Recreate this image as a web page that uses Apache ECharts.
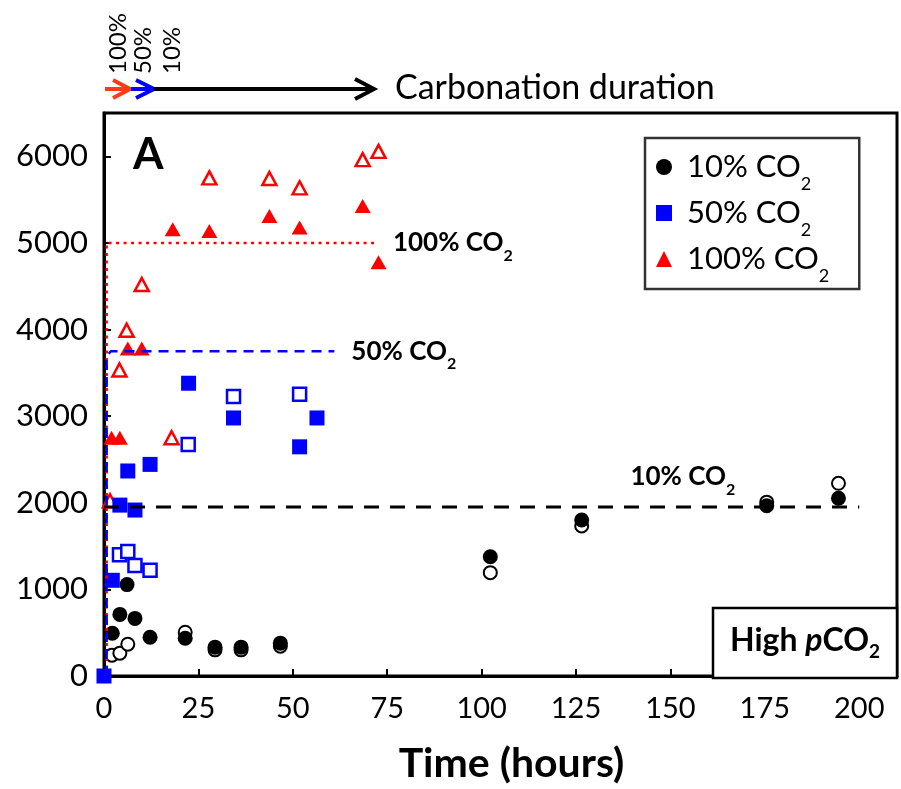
<!DOCTYPE html>
<html>
<head>
<meta charset="utf-8">
<script src="https://cdn.jsdelivr.net/npm/echarts@6/dist/echarts.min.js"></script>
<style>
  html, body { margin: 0; padding: 0; background: #fff; }
  #chart { width: 901px; height: 789px; }
</style>
</head>
<body>
<div id="chart"></div>
<script>
var FONT = 'Lato, "Liberation Sans", sans-serif';

// 10% CO2 (filled = legend, open = second sample)
var hours10 = [2.2, 4.2, 6.1, 8.2, 12.2, 21.5, 29.4, 36.3, 46.7, 102.3, 126.5, 175.5, 194.5];
var carb10 = [493, 711, 1055, 665, 447, 436, 333, 333, 379, 1376, 1801, 1965, 2053];
var hours10b = [2.1, 4.2, 6.3, 21.5, 29.4, 36.3, 46.7, 102.3, 126.5, 175.5, 194.5];
var carb10b = [241, 264, 367, 505, 302, 302, 344, 1193, 1732, 2007, 2225];

// 50% CO2
var hours50 = [0, 2.2, 4.2, 6.3, 8.2, 12.2, 22.4, 34.3, 51.8, 56.4];
var carb50 = [0, 1105, 1973, 2367, 1916, 2443, 3380, 2979, 2646, 2979];
var hours50b = [4.1, 6.3, 8.2, 12.2, 22.3, 34.3, 51.8];
var carb50b = [1400, 1437, 1277, 1220, 2673, 3228, 3254];

// 100% CO2
var hours100 = [2.0, 4.2, 6.3, 10.0, 18.2, 27.9, 43.8, 51.8, 68.5, 72.7];
var carb100 = [2750, 2750, 3782, 3782, 5159, 5139, 5311, 5177, 5426, 4776];
var hours100b = [1.6, 4.1, 6.0, 10.0, 17.9, 27.9, 43.8, 51.8, 68.5, 72.7];
var carb100b = [2023, 3533, 3992, 4520, 2750, 5751, 5744, 5636, 5962, 6057];

// plateau lines
var plateauLevels = [1950, 3750, 5000];
var plateauEnds = [200, 61, 72];

var xTicks = [0, 25, 50, 75, 100, 125, 150, 175, 200];
var yTicks = [0, 1000, 2000, 3000, 4000, 5000, 6000];

function pairs(xs, ys) {
  return xs.map(function (x, i) { return [x, ys[i]]; });
}

// subscript pushed down with top padding (offset = padding / 2)
var labRich = {
  m: { fontFamily: FONT, fontSize: 26, fontWeight: 'bold', color: '#000', verticalAlign: 'middle' },
  s: { fontFamily: FONT, fontSize: 16, fontWeight: 'bold', color: '#000', lineHeight: 16, verticalAlign: 'middle', padding: [26, 0, 0, 0] }
};
function endLabel(txt, offY) {
  return {
    show: true, position: 'right', distance: offY ? 0 : 17, offset: [0, offY || 0],
    formatter: '{m|' + txt + '}{s|2}', rich: labRich
  };
}

var myChart = echarts.init(document.getElementById('chart'));

var option = {
  animation: false,
  grid: { left: 104, right: 4, top: 113, bottom: 111, show: true, borderColor: '#000', borderWidth: 3 },
  legend: {
    orient: 'vertical',
    left: 645, top: 138,
    padding: [3, 30, 4, 11],
    itemGap: -6,
    itemWidth: 16, itemHeight: 16,
    borderColor: '#333', borderWidth: 2.5,
    data: ['10% CO2', '50% CO2', '100% CO2'],
    formatter: function (name) { return '{m|' + name.slice(0, -1) + '}{s|2}'; },
    textStyle: {
      rich: {
        m: { fontFamily: FONT, fontSize: 31, color: '#000', verticalAlign: 'middle', padding: [0, 0, 0, 10] },
        s: { fontFamily: FONT, fontSize: 18, color: '#000', lineHeight: 16, verticalAlign: 'middle', padding: [34, 0, 0, 0] }
      }
    }
  },
  xAxis: {
    type: 'value', min: 0, max: 210, interval: 25,
    axisLine: { lineStyle: { color: '#000', width: 3 } },
    axisTick: { inside: true, length: 7, lineStyle: { color: '#000', width: 2 } },
    splitLine: { show: false },
    axisLabel: {
      color: '#000', fontFamily: FONT, fontSize: 29, margin: 18,
      formatter: function (v) { return xTicks.indexOf(v) >= 0 ? String(v) : ''; }
    },
    name: 'Time (hours)', nameLocation: 'middle', nameGap: 67,
    nameTextStyle: { color: '#000', fontFamily: FONT, fontSize: 41, fontWeight: 'bold', padding: [0, 0, 0, 22] }
  },
  yAxis: {
    type: 'value', min: 0, max: 6500, interval: 1000,
    axisLine: { lineStyle: { color: '#000', width: 3 } },
    axisTick: { inside: true, length: 7, lineStyle: { color: '#000', width: 2 } },
    splitLine: { show: false },
    axisLabel: {
      color: '#000', fontFamily: FONT, fontSize: 31, margin: 16,
      formatter: function (v) { return yTicks.indexOf(v) >= 0 ? String(v) : ''; }
    }
  },
  series: [
    {
      name: 'line10', type: 'line', symbol: 'circle', symbolSize: 0, silent: true,
      lineStyle: { color: '#000', width: 3, type: [15, 11] },
      data: [[0, plateauLevels[0]], { value: [139.4, plateauLevels[0]], label: endLabel('10% CO', -30) }, [plateauEnds[0], plateauLevels[0]]]
    },
    {
      name: 'line100', type: 'line', symbol: 'circle', symbolSize: 0, silent: true,
      lineStyle: { color: '#ff0000', width: 2.5, type: [3, 4.5] },
      data: [[0.7, 0], [0.7, plateauLevels[2]], { value: [plateauEnds[2], plateauLevels[2]], label: endLabel('100% CO') }]
    },
    {
      name: 'line50', type: 'line', symbol: 'circle', symbolSize: 0, silent: true,
      lineStyle: { color: '#0000ff', width: 2.5, type: [10, 7] },
      data: [[0.7, 0], [0.7, plateauLevels[1] - 60], [1.8, plateauLevels[1]], { value: [plateauEnds[1], plateauLevels[1]], label: endLabel('50% CO') }]
    },
    {
      name: '10% CO2 open', type: 'scatter', symbol: 'circle', symbolSize: 13,
      itemStyle: { color: '#fff', borderColor: '#000', borderWidth: 2, opacity: 1 },
      data: pairs(hours10b, carb10b)
    },
    {
      name: '10% CO2', type: 'scatter', symbol: 'circle', symbolSize: 15,
      itemStyle: { color: '#000', opacity: 1 },
      data: pairs(hours10, carb10)
    },
    {
      name: '100% CO2 open', type: 'scatter', symbol: 'triangle', symbolSize: [14, 13],
      itemStyle: { color: '#fff', borderColor: '#ff0000', borderWidth: 2.5, opacity: 1 },
      data: pairs(hours100b, carb100b)
    },
    {
      name: '100% CO2', type: 'scatter', symbol: 'triangle', symbolSize: [16, 14],
      itemStyle: { color: '#ff0000', opacity: 1 },
      data: pairs(hours100, carb100)
    },
    {
      name: '50% CO2 open', type: 'scatter', symbol: 'rect', symbolSize: 13,
      itemStyle: { color: '#fff', borderColor: '#0000ff', borderWidth: 2.5, opacity: 1 },
      data: pairs(hours50b, carb50b)
    },
    {
      name: '50% CO2', type: 'scatter', symbol: 'rect', symbolSize: 15,
      itemStyle: { color: '#0000ff', opacity: 1 },
      data: pairs(hours50, carb50)
    }
  ],
  graphic: [
    // panel letter
    { type: 'text', left: 133, top: 133, style: { text: 'A', fontFamily: FONT, fontSize: 44, fontWeight: 'bold', fill: '#000' } },
    // High pCO2 box
    { type: 'rect', shape: { x: 713, y: 608, width: 184, height: 70 }, style: { fill: '#fff', stroke: '#000', lineWidth: 2.5 }, z: 10 },
    {
      type: 'text', x: 805, y: 641, z: 11,
      style: {
        text: '{m|High }{i|p}{m|CO}{s|2}', align: 'center', verticalAlign: 'middle',
        rich: {
          m: { fontFamily: FONT, fontSize: 32, fontWeight: 'bold', fill: '#000', verticalAlign: 'middle' },
          i: { fontFamily: FONT, fontSize: 32, fontWeight: 'bold', fontStyle: 'italic', fill: '#000', verticalAlign: 'middle' },
          s: { fontFamily: FONT, fontSize: 19, fontWeight: 'bold', fill: '#000', lineHeight: 18, verticalAlign: 'middle', padding: [22, 0, 0, 0] }
        }
      }
    },
    // carbonation duration arrows
    { type: 'line', shape: { x1: 105, y1: 89, x2: 129, y2: 89 }, style: { stroke: '#ff3a1a', lineWidth: 4 } },
    { type: 'polyline', shape: { points: [[113, 80], [130, 89], [113, 98]] }, style: { stroke: '#ff3a1a', lineWidth: 4, fill: null } },
    { type: 'line', shape: { x1: 131, y1: 89, x2: 153, y2: 89 }, style: { stroke: '#0000ff', lineWidth: 4 } },
    { type: 'polyline', shape: { points: [[136, 80], [154, 89], [136, 98]] }, style: { stroke: '#0000ff', lineWidth: 4, fill: null } },
    { type: 'line', shape: { x1: 154, y1: 89, x2: 372, y2: 89 }, style: { stroke: '#000', lineWidth: 4 } },
    { type: 'polyline', shape: { points: [[355, 79], [374, 89], [355, 99]] }, style: { stroke: '#000', lineWidth: 4, fill: null } },
    { type: 'text', x: 395, y: 88, style: { text: 'Carbonation duration', fontFamily: FONT, fontSize: 34, fill: '#000', verticalAlign: 'middle' } },
    { type: 'text', x: 118, y: 74, rotation: Math.PI / 2, style: { text: '100%', fontFamily: FONT, fontSize: 24, fill: '#000', verticalAlign: 'middle' } },
    { type: 'text', x: 143.5, y: 74, rotation: Math.PI / 2, style: { text: '50%', fontFamily: FONT, fontSize: 24, fill: '#000', verticalAlign: 'middle' } },
    { type: 'text', x: 172, y: 74, rotation: Math.PI / 2, style: { text: '10%', fontFamily: FONT, fontSize: 24, fill: '#000', verticalAlign: 'middle' } }
  ]
};

myChart.setOption(option);
</script>
</body>
</html>
